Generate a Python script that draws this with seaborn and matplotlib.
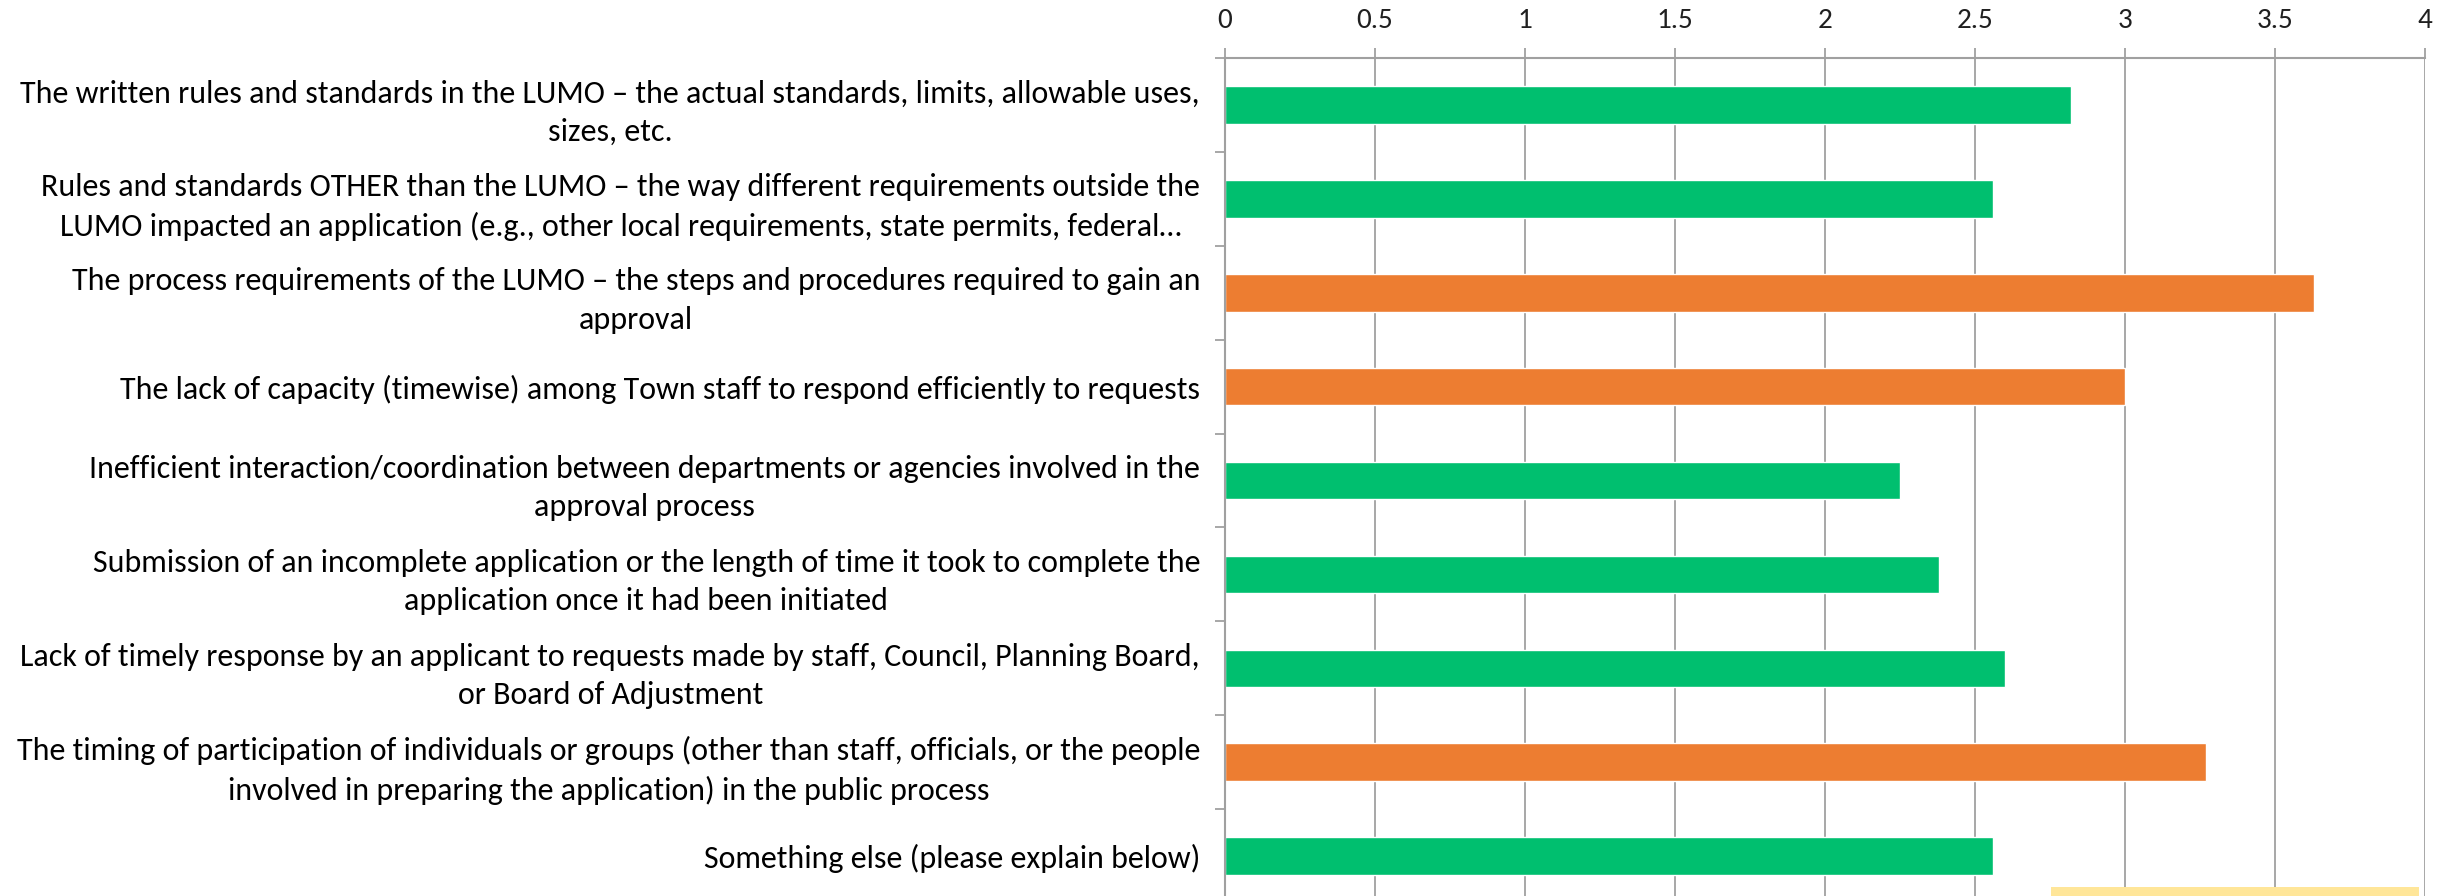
import pandas as pd
import matplotlib.pyplot as plt
from matplotlib.patches import Rectangle
from matplotlib.ticker import MultipleLocator, FixedLocator
import seaborn as sns

# =============================================================================
# Data
# =============================================================================

factors = [
    "The written rules and standards in the LUMO \u2013 the actual standards, limits, allowable uses,\nsizes, etc.",
    "Rules and standards OTHER than the LUMO \u2013 the way different requirements outside the\nLUMO impacted an application (e.g., other local requirements, state permits, federal\u2026",
    "The process requirements of the LUMO \u2013 the steps and procedures required to gain an\napproval",
    "The lack of capacity (timewise) among Town staff to respond efficiently to requests",
    "Inefficient interaction/coordination between departments or agencies involved in the\napproval process",
    "Submission of an incomplete application or the length of time it took to complete the\napplication once it had been initiated",
    "Lack of timely response by an applicant to requests made by staff, Council, Planning Board,\nor Board of Adjustment",
    "The timing of participation of individuals or groups (other than staff, officials, or the people\ninvolved in preparing the application) in the public process",
    "Something else (please explain below)",
]
avg_score = [2.82, 2.56, 3.63, 3.00, 2.25, 2.38, 2.60, 3.27, 2.56]
x_ticks = [0, 0.5, 1, 1.5, 2, 2.5, 3, 3.5, 4]
x_tick_labels = ["0", "0.5", "1", "1.5", "2", "2.5", "3", "3.5", "4"]

df = pd.DataFrame({"factor": factors, "score": avg_score})
df["level"] = ["high" if s >= 3 else "low" for s in df["score"]]
colours = {"low": "#00BF6F", "high": "#ED7D31"}

# =============================================================================
# Plot
# =============================================================================

sns.set_theme(style="white")
plt.rcParams["font.family"] = ["Carlito", "Liberation Sans Narrow",
                               "Roboto Condensed", "DejaVu Sans"]

fig = plt.figure(figsize=(24.53, 8.96), dpi=100)
ax = fig.add_axes([0.4994, -0.0078, 0.4892, 0.943])

sns.barplot(data=df, x="score", y="factor", hue="level", palette=colours,
            orient="h", width=0.4, dodge=False, legend=False, saturation=1,
            ax=ax)

grid_col = "#A0A0A0"
ax.set_xlim(0, 4)
ax.set_ylim(len(factors) - 0.5, -0.5)
ax.xaxis.tick_top()
ax.xaxis.set_major_locator(FixedLocator(x_ticks))
ax.set_xticklabels(x_tick_labels)
ax.grid(axis="x", color=grid_col, linewidth=1.3)
ax.set_axisbelow(True)
ax.set_xlabel("")
ax.set_ylabel("")

for side in ["right", "bottom"]:
    ax.spines[side].set_visible(False)
for side in ["top", "left"]:
    ax.spines[side].set_color(grid_col)
    ax.spines[side].set_linewidth(1.5)

ax.tick_params(axis="x", which="major", direction="out", length=7,
               color=grid_col, width=1.3, labelsize=21, labelcolor="#202020",
               pad=11)
ax.tick_params(axis="y", which="major", length=0, labelsize=23,
               labelcolor="#000000", pad=18)
ax.yaxis.set_minor_locator(MultipleLocator(1, offset=0.5))
ax.tick_params(axis="y", which="minor", direction="out", length=7,
               color=grid_col, width=1.3, left=True)

for t in ax.get_yticklabels():
    t.set_multialignment("center")
    t.set_linespacing(1.45)

# yellow strip at the bottom edge of the screenshot
fig.patches.append(Rectangle((0.836, 0.0), 0.150, 0.010,
                             transform=fig.transFigure,
                             facecolor="#FFE699", edgecolor="none"))

fig.savefig("out.png", dpi=100)
